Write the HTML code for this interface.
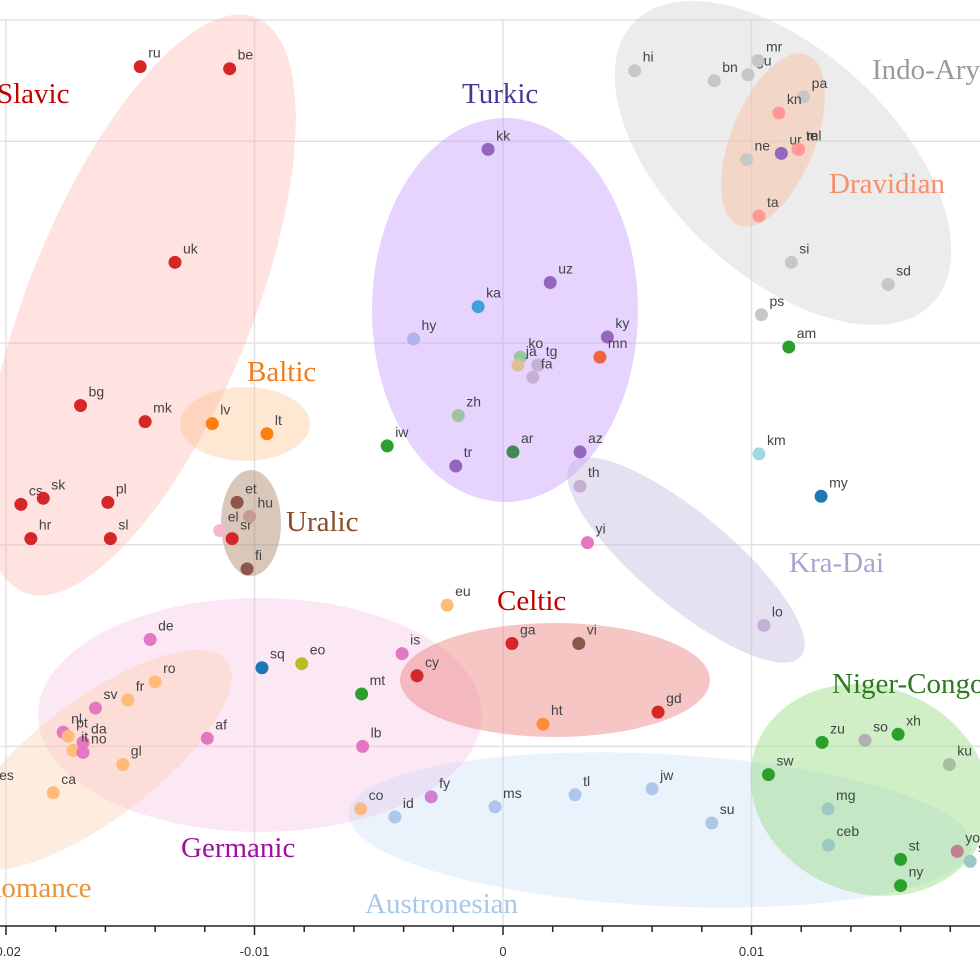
<!DOCTYPE html>
<html><head><meta charset="utf-8"><style>
html,body{margin:0;padding:0;background:#fff;}
svg{display:block;}
.pl{font-family:"Liberation Sans",sans-serif;font-size:14px;fill:#444;}
.gl{font-family:"Liberation Serif",serif;font-size:29px;}
.tk{font-family:"Liberation Sans",sans-serif;font-size:13px;fill:#333;}
</style></head><body>
<svg id="chart" width="980" height="980" viewBox="0 0 980 980">
<g id="grid"></g>
<g id="ellipses"></g>
<g id="points"></g>
<g id="glabels"></g>
<g id="axis"></g>
</svg>
<script>
// data in thousandths
const langs = ["ru","be","uk","bg","mk","cs","sk","pl","hr","sl","sr","lv","lt","et","hu","fi","el","kk","uz","ky","tr","az","ur","ka","hy","ko","ja","tg","fa","mn","zh","iw","ar","th","yi","lo","km","my","am","hi","bn","gu","mr","pa","ne","kn","te","ml","ta","si","sd","ps","de","ro","fr","sv","nl","pt","da","it","no","gl","ca","es","af","sq","eo","is","cy","mt","lb","eu","co","id","fy","ms","tl","jw","su","ga","vi","gd","ht","zu","so","xh","ku","sw","mg","ceb","st","ny","yo","sn"];
const xVals = [-14.6,-11.0,-13.2,-17.0,-14.4,-19.4,-18.5,-15.9,-19.0,-15.8,-10.9,-11.7,-9.5,-10.7,-10.2,-10.3,-11.4,-0.6,1.9,4.2,-1.9,3.1,11.2,-1.0,-3.6,0.7,0.6,1.4,1.2,3.9,-1.8,-4.66,0.4,3.1,3.4,10.5,10.3,12.8,11.5,5.3,8.5,9.86,10.26,12.1,9.8,11.1,11.87,11.9,10.3,11.6,15.5,10.4,-14.2,-14.0,-15.1,-16.4,-17.7,-17.5,-16.9,-17.3,-16.9,-15.3,-18.1,-20.6,-11.9,-9.7,-8.1,-4.06,-3.46,-5.69,-5.65,-2.25,-5.73,-4.35,-2.89,-0.32,2.9,6.0,8.4,0.36,3.05,6.24,1.61,12.84,14.57,15.9,17.96,10.68,13.08,13.1,16.0,16.0,18.28,18.8];
const yVals = [13.7,13.6,4.0,-3.1,-3.9,-8.0,-7.7,-7.9,-9.7,-9.7,-9.7,-4.0,-4.5,-7.9,-8.6,-11.2,-9.3,9.6,3.0,0.3,-6.1,-5.4,9.4,1.8,0.2,-0.7,-1.1,-1.1,-1.7,-0.7,-3.6,-5.1,-5.4,-7.1,-9.9,-14.0,-5.5,-7.6,-0.2,13.5,13.0,13.3,14.0,12.2,9.1,11.4,9.6,9.6,6.3,4.0,2.9,1.4,-14.7,-16.8,-17.7,-18.1,-19.3,-19.5,-19.8,-20.2,-20.3,-20.9,-22.3,-22.1,-19.6,-16.1,-15.9,-15.4,-16.5,-17.4,-20.0,-13.0,-23.1,-23.5,-22.5,-23.0,-22.4,-22.1,-23.8,-14.9,-14.9,-18.3,-18.9,-19.8,-19.7,-19.4,-20.9,-21.4,-23.1,-24.9,-25.6,-26.9,-25.2,-25.7];
const colors = ["#d62728","#d62728","#d62728","#d62728","#d62728","#d62728","#d62728","#d62728","#d62728","#d62728","#d62728","#ff7f0e","#ff7f0e","#8c564b","#c49c94","#8c564b","#f7b6d2","#9467bd","#9467bd","#9467bd","#9467bd","#9467bd","#9467bd","#3fa0d8","#aeb4ec","#98c9a3","#dbbf99","#c5b0d5","#c5b0d5","#f0643c","#a0c4a2","#2ca02c","#3d8b55","#c5b0d5","#e377c2","#c5b0d5","#9edae5","#1f77b4","#2ca02c","#c7c7c7","#c7c7c7","#c7c7c7","#c7c7c7","#c7c7c7","#c7c7c7","#ff9896","#ff9896","#ff9896","#ff9896","#c7c7c7","#c7c7c7","#c7c7c7","#e377c2","#ffbb78","#ffbb78","#e377c2","#e377c2","#ffbb78","#e377c2","#ffbb78","#e377c2","#ffbb78","#ffbb78","#ffbb78","#e377c2","#1f77b4","#bcbd22","#e377c2","#d62728","#2ca02c","#e377c2","#ffbb78","#f7b98a","#aec7e8","#d27fd0","#aec7e8","#aec7e8","#aec7e8","#aec7e8","#d62728","#8c564b","#d62728","#fd8d3c","#2ca02c","#b0b0b0","#2ca02c","#aabfa0","#2ca02c","#9cc9c4","#9cc9c4","#2ca02c","#2ca02c","#c08090","#9cc9c4"];
const xTicks = [-20,-10,0,10];
const xTickLabels = ["-0.02","-0.01","0","0.01"];
const yGrid = [10,0,-10,-20];

const X = v => 503 + v*24.85;
const Y = v => 343 - v*20.17;
const NS = "http://www.w3.org/2000/svg";
function mk(tag, attrs, parent){const e=document.createElementNS(NS,tag);for(const k in attrs)e.setAttribute(k,attrs[k]);parent.appendChild(e);return e;}

const grid=document.getElementById('grid');
mk('line',{x1:0,x2:980,y1:20,y2:20,stroke:'#e3e3e3','stroke-width':1.5},grid);
xTicks.forEach(t=>{const l=mk('line',{x1:X(t),x2:X(t),y1:20,y2:926,stroke:'#e3e3e3','stroke-width':1.5},grid);

});
yGrid.forEach(t=>{const l=mk('line',{x1:0,x2:980,y1:Y(t),y2:Y(t),stroke:'#e3e3e3','stroke-width':1.5},grid);

});

const ell=document.getElementById('ellipses');
const E=[["slavic-ellipse",140,305,112,310,22,"rgba(252,170,165,0.33)"],
["baltic-ellipse",245,424,65,37,0,"rgba(255,190,130,0.35)"],
["uralic-ellipse",251,523,30,53,0,"rgba(170,130,100,0.45)"],
["turkic-ellipse",505,310,133,192,0,"rgba(200,160,255,0.45)"],
["indo-aryan-ellipse",783,163,205,112,43,"rgba(200,200,200,0.35)"],
["dravidian-ellipse",773,140,42,92,22,"rgba(250,190,160,0.45)"],
["kra-dai-ellipse",686,560,150,46,40,"rgba(190,180,220,0.4)"],
["germanic-ellipse",260,715,222,117,0,"rgba(245,180,220,0.3)"],
["romance-ellipse",95,760,165,60,-37,"rgba(252,200,160,0.35)"],
["celtic-ellipse",555,680,155,57,0,"rgba(232,120,115,0.42)"],
["austronesian-ellipse",660,830,312,76,3,"rgba(190,215,245,0.32)"],
["niger-congo-ellipse",870,790,122,103,22,"rgba(150,220,130,0.45)"]];
E.forEach(e=>{const el=mk('ellipse',{cx:e[1],cy:e[2],rx:e[3],ry:e[4],fill:e[6],transform:`rotate(${e[5]} ${e[1]} ${e[2]})`},ell);

});

const pts=document.getElementById('points');
langs.forEach((n,i)=>{const c=mk('circle',{cx:X(xVals[i]),cy:Y(yVals[i]),r:6.5,fill:colors[i]},pts);


const t=mk('text',{x:X(xVals[i])+8,y:Y(yVals[i])-9,class:'pl'},pts);t.textContent=n;

});

const gl=document.getElementById('glabels');
const G=[["Slavic",-3,103,"#c00000"],["Turkic",462,103,"#4b3596"],["Indo-Aryan",872,79,"#9a9a9a"],["Dravidian",829,193,"#f4906a"],["Baltic",247,381,"#f07d1a"],["Uralic",286,531,"#8b4a2a"],["Kra-Dai",789,572,"#ada2d2"],["Celtic",497,610,"#c00000"],["Niger-Congo",832,693,"#2e7a1e"],["Germanic",181,857,"#a010a0"],["Romance",-18,897,"#e8963c"],["Austronesian",365,913,"#a8c8e8"]];
G.forEach(g=>{const t=mk('text',{x:g[1],y:g[2],class:'gl',fill:g[3]},gl);t.textContent=g[0];

});

const ax=document.getElementById('axis');
mk('line',{x1:0,x2:980,y1:926,y2:926,stroke:'#222','stroke-width':1.5},ax);
for(let v=-20;v<=18;v+=2){const l=mk('line',{x1:X(v),x2:X(v),y1:926,y2:xTicks.includes(v)?935:932,stroke:'#222','stroke-width':1.5},ax);

}
xTicks.forEach((t,i)=>{const tx=mk('text',{x:X(t),y:956,class:'tk','text-anchor':'middle'},ax);tx.textContent=xTickLabels[i];

});
</script>
</body></html>
